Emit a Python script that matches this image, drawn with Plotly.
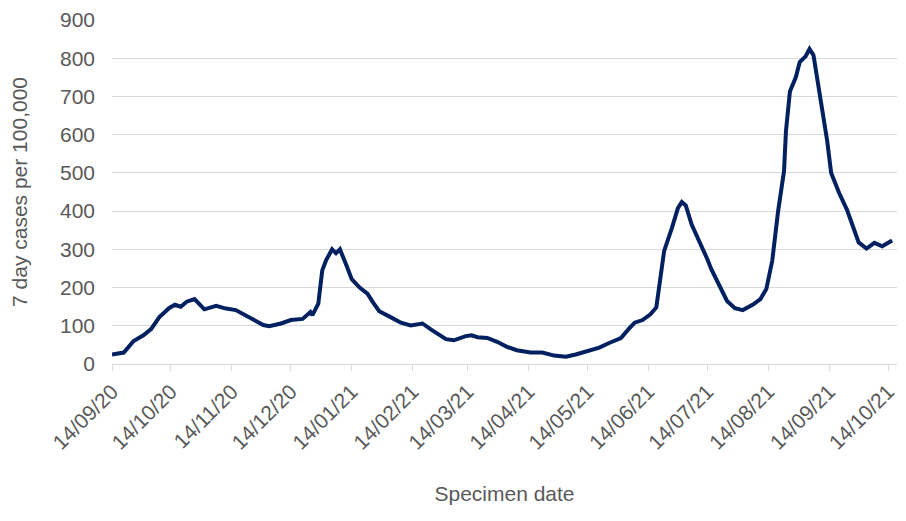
import plotly.graph_objects as go

# -- Datos --------------------------------------------------------------------
fechas = [
    "2020-09-14", "2020-09-20", "2020-09-25", "2020-09-30", "2020-10-04",
    "2020-10-08", "2020-10-13", "2020-10-16", "2020-10-19", "2020-10-22",
    "2020-10-26", "2020-10-31", "2020-11-06", "2020-11-11", "2020-11-16",
    "2020-11-23", "2020-11-30", "2020-12-03", "2020-12-09", "2020-12-14",
    "2020-12-20", "2020-12-24", "2020-12-25", "2020-12-28", "2020-12-30",
    "2021-01-01", "2021-01-04", "2021-01-06", "2021-01-08", "2021-01-11",
    "2021-01-14", "2021-01-18", "2021-01-22", "2021-01-25", "2021-01-28",
    "2021-02-03", "2021-02-08", "2021-02-13", "2021-02-19", "2021-02-24",
    "2021-03-03", "2021-03-07", "2021-03-13", "2021-03-16", "2021-03-19",
    "2021-03-24", "2021-03-29", "2021-04-03", "2021-04-08", "2021-04-15",
    "2021-04-21", "2021-04-27", "2021-05-03", "2021-05-08", "2021-05-14",
    "2021-05-20", "2021-05-25", "2021-05-31", "2021-06-04", "2021-06-07",
    "2021-06-11", "2021-06-15", "2021-06-18", "2021-06-20", "2021-06-22",
    "2021-06-26", "2021-06-29", "2021-07-01", "2021-07-03", "2021-07-06",
    "2021-07-09", "2021-07-14", "2021-07-16", "2021-07-20", "2021-07-24",
    "2021-07-28", "2021-08-01", "2021-08-06", "2021-08-10", "2021-08-13",
    "2021-08-16", "2021-08-19", "2021-08-22", "2021-08-23", "2021-08-25",
    "2021-08-28", "2021-08-30", "2021-09-02", "2021-09-04", "2021-09-06",
    "2021-09-08", "2021-09-10", "2021-09-13", "2021-09-15", "2021-09-19",
    "2021-09-23", "2021-09-26", "2021-09-29", "2021-10-03", "2021-10-07",
    "2021-10-11", "2021-10-14", "2021-10-16",
]
casos_7d = [
    25, 30, 60, 75, 92,
    122, 146, 155, 150, 163,
    170, 143, 152, 145, 141,
    120, 102, 99, 106, 115,
    118, 136, 128, 158, 245,
    272, 300, 290, 300, 262,
    222, 200, 184, 160, 138,
    122, 108, 101, 106, 88,
    65, 62, 73, 75, 70,
    68, 58, 45, 36, 30,
    30, 22, 19, 25, 35,
    43, 55, 68, 92, 108,
    115, 130, 148, 226, 296,
    357, 408, 424, 415, 365,
    332, 274, 248, 204, 165,
    146, 141, 155, 170, 196,
    270, 400, 505, 610, 713,
    750, 790, 805, 824, 808,
    748, 688, 583, 500, 448,
    404, 357, 318, 302, 317,
    308, 316, 323,
]
ticks_x = [
    "2020-09-14", "2020-10-14", "2020-11-14", "2020-12-14", "2021-01-14",
    "2021-02-14", "2021-03-14", "2021-04-14", "2021-05-14", "2021-06-14",
    "2021-07-14", "2021-08-14", "2021-09-14", "2021-10-14",
]
ticks_y = [0, 100, 200, 300, 400, 500, 600, 700, 800, 900]

GRIS_TEXTO = "#595959"
FUENTE = "Liberation Sans, Arial, sans-serif"

# -- Grafico -------------------------------------------------------------------
# la pagina deja 8 px de margen en el body, por eso los margenes van corridos
fig = go.Figure()
fig.add_trace(go.Scatter(
    x=fechas, y=casos_7d,
    mode="lines",
    line=dict(color="#002060", width=4),
    hoverinfo="x+y",
))

fig.update_layout(
    width=906, height=521,
    margin=dict(l=104, r=17, t=12, b=165),
    paper_bgcolor="white",
    plot_bgcolor="white",
    showlegend=False,
    font=dict(family=FUENTE, size=21, color=GRIS_TEXTO),
)

fig.update_xaxes(
    range=["2020-09-14", "2021-10-18 12:00"],
    tickvals=ticks_x,
    tickformat="%d/%m/%y",
    tickangle=-45,
    ticks="outside", ticklen=6, tickcolor="#d9d9d9",
    showline=True, linecolor="#d9d9d9", linewidth=1,
    showgrid=False, zeroline=False,
    automargin=False,
    tickfont=dict(size=21, color=GRIS_TEXTO),
    title=dict(text="Specimen date", font=dict(size=21, color=GRIS_TEXTO), standoff=33),
)
fig.update_yaxes(
    range=[0, 900],
    tickvals=ticks_y,
    showgrid=True, gridcolor="#d9d9d9", gridwidth=1,
    zeroline=False, showline=False,
    ticks="",
    ticklabelstandoff=16,
    automargin=False,
    tickfont=dict(size=21, color=GRIS_TEXTO),
    title=dict(text="7 day cases per 100,000", font=dict(size=21, color=GRIS_TEXTO), standoff=36),
)

fig.write_html("out.html")
